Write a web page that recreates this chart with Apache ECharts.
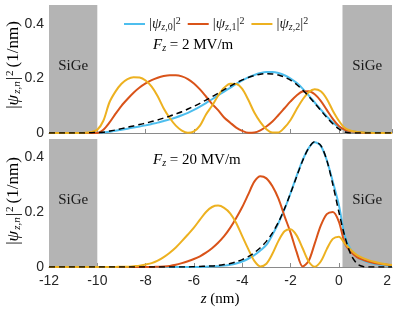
<!DOCTYPE html>
<html><head><meta charset="utf-8">
<script src="https://cdn.jsdelivr.net/npm/echarts@6/dist/echarts.min.js"></script>
<style>html,body{margin:0;padding:0;background:#fff}#c{width:399px;height:311px}</style>
</head><body><div id="c"></div>
<script>
// z positions (nm): rows of one nm, 4 samples each, then 2 and 2.2
const zs = [
 -12,-11.75,-11.5,-11.25, -11,-10.75,-10.5,-10.25, -10,-9.75,-9.5,-9.25,
 -9,-8.75,-8.5,-8.25, -8,-7.75,-7.5,-7.25, -7,-6.75,-6.5,-6.25,
 -6,-5.75,-5.5,-5.25, -5,-4.75,-4.5,-4.25, -4,-3.75,-3.5,-3.25,
 -3,-2.75,-2.5,-2.25, -2,-1.75,-1.5,-1.25, -1,-0.75,-0.5,-0.25,
 0,0.25,0.5,0.75, 1,1.25,1.5,1.75, 2,2.2];

// F = 2 MV/m
const top0 = [
 0,0,0,0, 0,0,0,0, 0,0.002,0.005,0.008,
 0.012,0.016,0.020,0.024, 0.028,0.033,0.038,0.044, 0.050,0.057,0.065,0.074,
 0.085,0.097,0.110,0.124, 0.138,0.152,0.166,0.180, 0.193,0.204,0.213,0.220,
 0.224,0.224,0.220,0.212, 0.200,0.184,0.163,0.138, 0.112,0.086,0.061,0.039,
 0.022,0.012,0.007,0.004, 0.002,0.001,0.001,0, 0,0];
const top1 = [
 0,0,0,0, 0,0,0,0, 0,0.012,0.038,0.070,
 0.100,0.125,0.148,0.167, 0.182,0.194,0.203,0.209, 0.212,0.212,0.208,0.198,
 0.182,0.160,0.134,0.107, 0.084,0.057,0.038,0.020, 0.008,0.001,0.002,0.010,
 0.024,0.042,0.066,0.091, 0.116,0.138,0.152,0.153, 0.142,0.118,0.085,0.052,
 0.026,0.012,0.006,0.003, 0.001,0,0,0, 0,0];
const top2 = [
 0,0,0,0, 0,0,0.001,0.004, 0.012,0.045,0.112,0.152,
 0.181,0.198,0.205,0.204, 0.193,0.170,0.135,0.090, 0.055,0.027,0.009,0.001,
 0.006,0.027,0.068,0.100, 0.137,0.166,0.181,0.180, 0.162,0.122,0.075,0.040,
 0.014,0.002,0.002,0.020, 0.048,0.087,0.123,0.150, 0.161,0.153,0.125,0.082,
 0.045,0.018,0.008,0.004, 0.002,0.001,0,0, 0,0];
const topApprox = [
 0,0,0,0, 0,0,0,0.001, 0.002,0.003,0.007,0.011,
 0.016,0.021,0.026,0.031, 0.036,0.042,0.048,0.055, 0.062,0.070,0.078,0.088,
 0.098,0.109,0.121,0.133, 0.146,0.159,0.172,0.184, 0.195,0.204,0.211,0.216,
 0.218,0.217,0.213,0.205, 0.194,0.178,0.158,0.135, 0.109,0.083,0.057,0.034,
 0.015,0.004,0,0, 0,0,0,0, 0,0];

// F = 20 MV/m
const bot0 = [
 0,0,0,0, 0,0,0,0, 0,0,0,0,
 0,0,0,0, 0,0,0,0, 0,0,0,0,
 0,0,0.001,0.002, 0.003,0.005,0.008,0.013, 0.020,0.030,0.043,0.060,
 0.080,0.117,0.160,0.210, 0.268,0.330,0.388,0.432, 0.453,0.440,0.388,0.310,
 0.225,0.112,0.062,0.036, 0.024,0.016,0.011,0.008, 0.005,0.004];
const bot1 = [
 0,0,0,0, 0,0,0,0, 0,0,0,0,
 0,0,0,0, 0,0,0.001,0.002, 0.004,0.008,0.014,0.021,
 0.029,0.039,0.052,0.068, 0.088,0.112,0.142,0.178, 0.218,0.264,0.310,0.330,
 0.322,0.293,0.248,0.185, 0.125,0.055,0.002,0.022, 0.085,0.150,0.192,0.200,
 0.165,0.085,0.055,0.036, 0.026,0.019,0.014,0.011, 0.008,0.007];
const bot2 = [
 0,0,0,0, 0,0,0,0, 0,0,0,0,
 0.001,0.001,0.003,0.005, 0.009,0.014,0.023,0.036, 0.052,0.071,0.094,0.118,
 0.143,0.172,0.200,0.218, 0.223,0.215,0.195,0.160, 0.112,0.065,0.022,0.002,
 0.012,0.048,0.095,0.130, 0.137,0.115,0.068,0.020, 0.001,0.020,0.065,0.102,
 0.110,0.085,0.062,0.043, 0.032,0.024,0.018,0.013, 0.009,0.007];
const botApprox = [
 0,0,0,0, 0,0,0,0, 0,0,0,0,
 0,0,0,0, 0,0,0,0, 0,0,0,0,
 0.001,0.002,0.003,0.004, 0.006,0.009,0.013,0.019, 0.027,0.038,0.052,0.070,
 0.093,0.124,0.163,0.212, 0.268,0.328,0.386,0.432, 0.455,0.442,0.388,0.300,
 0.200,0.110,0.045,0.012, 0.002,0,0,0, 0,0];

const xTicks = [-12,-10,-8,-6,-4,-2,0,2];
const barrierLeft = [-12, -10];
const barrierRight = [0.15, 2.2];
const fields = ['2', '20'];

const C0 = '#4DBEEE', C1 = '#D95319', C2 = '#EDB120';
const serif = 'Liberation Serif';
const sans = 'Liberation Sans';
const pair = a => zs.map((z, i) => [z, a[i]]);

const yMax = [0.47, 0.465];
function xAxis(g, labels) {
  return {type:'value', gridIndex:g, min:-12, max:2.2, interval:2,
    axisLine:{onZero:false, lineStyle:{color:'#8a8a8a', width:1}},
    axisTick:{inside:true, length:4, lineStyle:{color:'#8a8a8a'}},
    splitLine:{show:false},
    axisLabel:{show:labels, showMaxLabel:false, color:'#262626', fontSize:14, fontFamily:sans, margin:7}};
}
function yAxis(g) {
  return {type:'value', gridIndex:g, min:0, max:yMax[g], interval:0.2,
    axisLine:{show:false}, axisTick:{show:false}, splitLine:{show:false},
    axisLabel:{showMaxLabel:false, color:'#262626', fontSize:14, fontFamily:sans, margin:5}};
}
function barriers(g) {
  const m = yMax[g];
  return {silent:true, itemStyle:{color:'#b4b4b4', opacity:1},
    label:{show:true, position:'inside', color:'#1a1a1a', fontFamily:serif, fontSize:15, offset:[0,-3]},
    data:[[{name:'SiGe', xAxis:barrierLeft[0], yAxis:0}, {xAxis:barrierLeft[1], yAxis:m}],
          [{name:'SiGe', xAxis:barrierRight[0], yAxis:0}, {xAxis:barrierRight[1], yAxis:m}]]};
}
function line(name, g, data, color, extra) {
  return Object.assign({type:'line', name, xAxisIndex:g, yAxisIndex:g, data:pair(data),
    showSymbol:false, smooth:0.3, lineStyle:{color, width:2}, itemStyle:{color}, z:3, silent:true}, extra||{});
}
const richMath = {
  v:{fontFamily:serif, fontSize:15, lineHeight:16, color:'#1a1a1a'},
  g:{fontFamily:serif, fontSize:15, fontStyle:'italic', lineHeight:16, color:'#1a1a1a'},
  si:{fontFamily:serif, fontSize:10, fontStyle:'italic', lineHeight:6, verticalAlign:'bottom', color:'#1a1a1a'},
  s:{fontFamily:serif, fontSize:10, lineHeight:6, verticalAlign:'bottom', color:'#1a1a1a'},
  p:{fontFamily:serif, fontSize:10, lineHeight:6, verticalAlign:'top', color:'#1a1a1a'}
};
const richY = {
  v:{fontFamily:serif, fontSize:17, lineHeight:18, color:'#404040'},
  g:{fontFamily:serif, fontSize:17, fontStyle:'italic', lineHeight:18, color:'#404040'},
  si:{fontFamily:serif, fontSize:11, fontStyle:'italic', lineHeight:6, verticalAlign:'bottom', color:'#404040', padding:[0,1,0,1]},
  p:{fontFamily:serif, fontSize:11, lineHeight:6, verticalAlign:'top', color:'#404040', padding:[0,3,0,1]}
};
const legendNames = ['p0','p1','p2'];
const legendSub = {p0:',0', p1:',1', p2:',2'};
const yLabel = '{v||}{g|ψ}{si|z,n}{v||}{p|2}{v|(1/nm)}';

const chart = echarts.init(document.getElementById('c'), null, {renderer:'canvas'});
chart.setOption({
  animation:false,
  grid:[{left:49, right:7, top:5, height:128}, {left:49, right:7, top:139, height:128}],
  xAxis:[xAxis(0,false), xAxis(1,true)],
  yAxis:[yAxis(0), yAxis(1)],
  legend:{data:legendNames, top:11, left:119, icon:'rect', itemWidth:21, itemHeight:2, itemGap:7,
    formatter: n => '{v||}{g|ψ}{si|z}{s|' + legendSub[n] + '}{v||}{p|2}',
    textStyle:{rich:richMath, padding:[0,0,0,-1]}},
  series:[
    line('p0',0,top0,C0,{markArea:barriers(0)}),
    line('p1',0,top1,C1),
    line('p2',0,top2,C2),
    line('a0',0,topApprox,'#000',{lineStyle:{color:'#000', width:1.5, type:[6,4]}, z:4}),
    line('q0',1,bot0,C0,{markArea:barriers(1)}),
    line('q1',1,bot1,C1),
    line('q2',1,bot2,C2),
    line('a1',1,botApprox,'#000',{lineStyle:{color:'#000', width:1.5, type:[6,4]}, z:4})
  ],
  graphic:[
    {type:'text', left:153, top:38, z:10, style:{text:'{g|F}{si|z}{v| = ' + fields[0] + ' MV/m}', rich:richMath}},
    {type:'text', left:153, top:153, z:10, style:{text:'{g|F}{si|z}{v| = ' + fields[1] + ' MV/m}', rich:richMath}},
    {type:'text', x:220, y:299, z:10, style:{text:'{g|z}{v| (nm)}', rich:richMath, align:'center', verticalAlign:'middle'}},
    {type:'text', x:14, y:65, rotation:Math.PI/2, z:10, style:{text:yLabel, rich:richY, align:'center', verticalAlign:'middle'}},
    {type:'text', x:14, y:201, rotation:Math.PI/2, z:10, style:{text:yLabel, rich:richY, align:'center', verticalAlign:'middle'}}
  ]
});
</script></body></html>
